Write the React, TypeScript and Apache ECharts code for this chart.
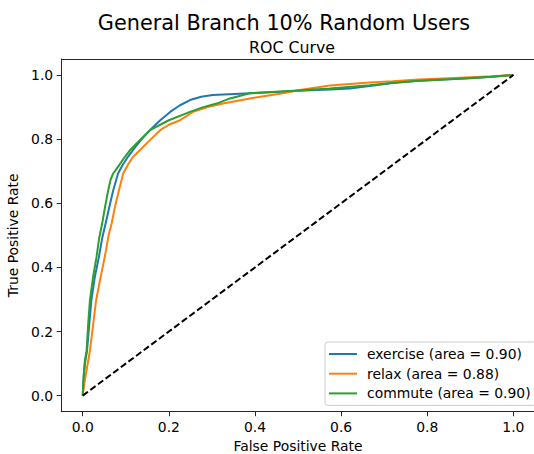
import React, { useEffect, useRef } from "react";
import * as echarts from "echarts";

// ROC points as [false positive rate, true positive rate]
const exerciseRoc: [number, number][] = [
  [0, 0], [0.002, 0.05], [0.005, 0.1], [0.01, 0.14], [0.015, 0.22], [0.02, 0.297],
  [0.028, 0.37], [0.0375, 0.432], [0.045, 0.49], [0.053, 0.536], [0.062, 0.59],
  [0.0707, 0.64], [0.082, 0.693], [0.093, 0.72], [0.105, 0.745], [0.12, 0.772],
  [0.135, 0.797], [0.156, 0.828], [0.18, 0.859], [0.203, 0.885], [0.225, 0.905],
  [0.249, 0.922], [0.275, 0.932], [0.302, 0.9375], [0.34, 0.94], [0.388, 0.943],
  [0.45, 0.947], [0.5, 0.951], [0.574, 0.955], [0.62, 0.958], [0.666, 0.966],
  [0.72, 0.975], [0.78, 0.982], [0.85, 0.987], [0.9, 0.99], [0.95, 0.995], [1, 1],
];

const relaxRoc: [number, number][] = [
  [0, 0], [0.004, 0.04], [0.009, 0.08], [0.0167, 0.14], [0.024, 0.22], [0.031, 0.297],
  [0.04, 0.36], [0.051, 0.432], [0.054, 0.453], [0.06, 0.5], [0.067, 0.536],
  [0.075, 0.59], [0.084, 0.64], [0.094, 0.693], [0.105, 0.72], [0.117, 0.745],
  [0.133, 0.766], [0.156, 0.797], [0.18, 0.828], [0.2, 0.845], [0.226, 0.859],
  [0.256, 0.885], [0.29, 0.9], [0.326, 0.911], [0.388, 0.927], [0.465, 0.943],
  [0.504, 0.953], [0.574, 0.967], [0.62, 0.972], [0.666, 0.977], [0.72, 0.981],
  [0.78, 0.986], [0.85, 0.99], [0.9, 0.993], [0.95, 0.996], [1, 1],
];

const commuteRoc: [number, number][] = [
  [0, 0], [0.002, 0.06], [0.005, 0.11], [0.009, 0.14], [0.013, 0.23], [0.0167, 0.297],
  [0.024, 0.37], [0.032, 0.432], [0.038, 0.49], [0.045, 0.536], [0.052, 0.59],
  [0.059, 0.64], [0.065, 0.675], [0.0707, 0.693], [0.085, 0.72], [0.098, 0.745],
  [0.11, 0.766], [0.1326, 0.797], [0.156, 0.828], [0.2, 0.859], [0.249, 0.885],
  [0.28, 0.9], [0.311, 0.911], [0.342, 0.927], [0.388, 0.943], [0.45, 0.948],
  [0.5, 0.952], [0.574, 0.958], [0.666, 0.968], [0.72, 0.976], [0.78, 0.982],
  [0.85, 0.987], [0.9, 0.991], [0.95, 0.995], [1, 1],
];

const chanceLine: [number, number][] = [[0, 0], [1, 1]];

const seriesNames = ["exercise", "relax", "commute"];
const seriesAuc = [0.9, 0.88, 0.9];
const seriesColors = ["#1f77b4", "#ff7f0e", "#2ca02c"];

const tickValues = [0, 0.2, 0.4, 0.6, 0.8, 1.0];
const axisMin = -0.05;
const axisMax = 1.05;

const FONT = "DejaVu Sans";
const SPINE = "#262626";

// plot-area box in pixels
const GRID = { left: 61.2, top: 59, width: 473.7, height: 352.7 };

const tickLabel = () => ({
  customValues: tickValues,
  formatter: (v: number) => v.toFixed(1),
  fontFamily: FONT,
  fontSize: 13.9,
  color: "#000",
  margin: 8,
});

const mainAxis = (name: string, position: string, nameGap: number) => ({
  type: "value" as const,
  position,
  min: axisMin,
  max: axisMax,
  axisLine: { show: true, onZero: false, lineStyle: { color: SPINE, width: 1 } },
  splitLine: { show: false },
  axisTick: {
    show: true,
    inside: false,
    customValues: tickValues,
    length: 4.5,
    lineStyle: { color: SPINE, width: 1 },
  },
  axisLabel: tickLabel(),
  name,
  nameGap,
  nameLocation: "middle" as const,
  nameTextStyle: { fontFamily: FONT, fontSize: 13.9, color: "#000" },
});

export default function App() {
  const ref = useRef<HTMLDivElement>(null);

  useEffect(() => {
    if (!ref.current) return;
    const chart = echarts.init(ref.current, null, { renderer: "svg" });

    const curves = [exerciseRoc, relaxRoc, commuteRoc];
    const labels = seriesNames.map(
      (n, i) => `${n} (area = ${seriesAuc[i].toFixed(2)})`
    );

    const topY = Math.round(GRID.top) + 0.5;
    const rightX = GRID.left + GRID.width;

    chart.setOption({
      animation: false,
      backgroundColor: "#fff",
      textStyle: { fontFamily: FONT },
      graphic: [
        {
          type: "text",
          x: 284,
          y: 23,
          style: {
            text: "General Branch 10% Random Users",
            fontFamily: FONT,
            fontSize: 20.8,
            fill: "#000",
            align: "center",
            verticalAlign: "middle",
          },
        },
        {
          type: "text",
          x: 292,
          y: 47,
          style: {
            text: "ROC Curve",
            fontFamily: FONT,
            fontSize: 15.8,
            fill: "#000",
            align: "center",
            verticalAlign: "middle",
          },
        },
        // top and right spines of the axes box
        {
          type: "line",
          silent: true,
          z: 10,
          shape: { x1: GRID.left, y1: topY, x2: rightX, y2: topY },
          style: { stroke: SPINE, lineWidth: 1 },
        },
        {
          type: "line",
          silent: true,
          z: 10,
          shape: { x1: rightX, y1: topY, x2: rightX, y2: GRID.top + GRID.height },
          style: { stroke: SPINE, lineWidth: 1 },
        },
      ],
      grid: {
        ...GRID,
        containLabel: false,
        outerBoundsMode: "none",
      },
      xAxis: mainAxis("False Positive Rate", "bottom", 25),
      yAxis: mainAxis("True Positive Rate", "left", 37),
      legend: {
        orient: "vertical",
        left: 325,
        top: 342,
        data: labels,
        icon: "rect",
        itemWidth: 28,
        itemHeight: 2,
        itemGap: 5.7,
        padding: [5, 6, 5, 4],
        backgroundColor: "rgba(255,255,255,0.8)",
        borderColor: "#ccc",
        borderWidth: 1,
        borderRadius: 3,
        textStyle: {
          fontFamily: FONT,
          fontSize: 13.9,
          color: "#000",
          lineHeight: 14,
          padding: [0, 0, 0, 5],
        },
      },
      series: [
        ...curves.map((d, i) => ({
          type: "line",
          name: labels[i],
          data: d,
          showSymbol: false,
          symbol: "none",
          color: seriesColors[i],
          lineStyle: { color: seriesColors[i], width: 2 },
          z: 2 + i,
        })),
        {
          type: "line",
          name: "chance",
          data: chanceLine,
          showSymbol: false,
          symbol: "none",
          color: "#000",
          lineStyle: { color: "#000", width: 2, type: [6.5, 3] },
          z: 6,
        },
      ],
    });

    return () => chart.dispose();
  }, []);

  return (
    <div
      ref={ref}
      style={{ position: "fixed", left: 0, top: 0, width: 534, height: 454 }}
    />
  );
}
